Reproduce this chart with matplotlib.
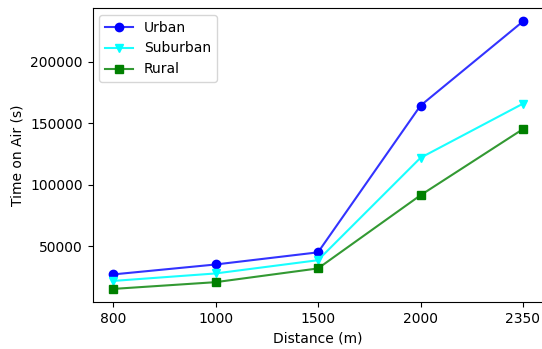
import numpy as np
import matplotlib
matplotlib.use("Agg")
import matplotlib.pyplot as plt

distances = ["800", "1000", "1500", "2000", "2350"]
urban = [26900, 35000, 44900, 164400, 233000]
suburban = [21600, 27700, 38500, 121900, 166000]
rural = [15100, 20600, 31800, 91400, 145300]

fig, ax = plt.subplots(figsize=(5.42, 3.49), dpi=100)
# right spine runs just past the picture edge in the original
fig.subplots_adjust(left=92.5 / 542, right=543.5 / 542, top=0.977, bottom=1 - 302.3 / 349)

x = np.arange(len(distances))
ax.plot(x, urban, color=(0, 0, 1, 0.8), marker="o", mfc="blue", mec="blue", label="Urban")
ax.plot(x, suburban, color=(0, 1, 1, 0.9), marker="v", mfc="cyan", mec="cyan", label="Suburban")
ax.plot(x, rural, color=(0, 0.5, 0, 0.8), marker="s", mfc="green", mec="green", label="Rural")

ax.set_xticks(x)
ax.set_xticklabels(distances)
ax.set_xlabel("Distance (m)")
ax.set_ylabel("Time on Air (s)")
ax.legend(loc="upper left")

fig.savefig("out.png")
